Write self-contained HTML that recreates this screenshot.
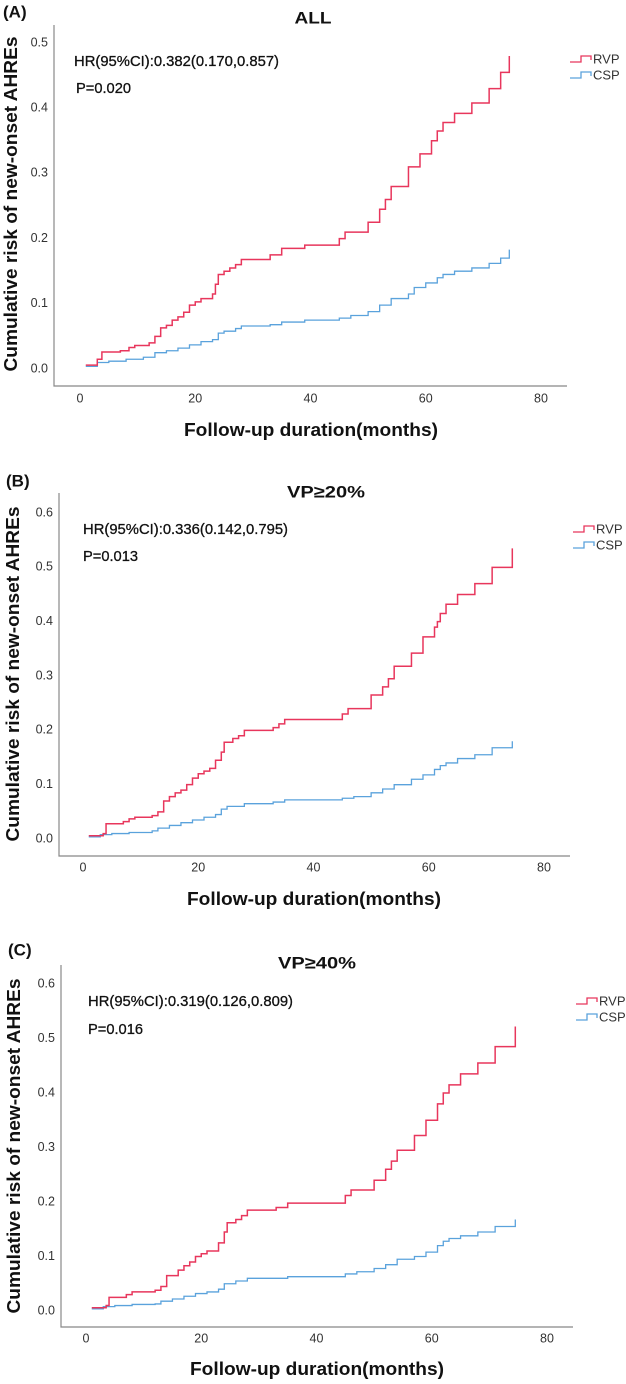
<!DOCTYPE html>
<html><head><meta charset="utf-8"><style>
html,body{margin:0;padding:0;background:#fff;}
svg{display:block;font-family:"Liberation Sans",Arial,sans-serif;}
</style></head><body>
<svg id="fig" width="626" height="1384" viewBox="0 0 626 1384"></svg>
<script>
// ---- data (months, cumulative risk) ----
const xTicks = [0, 20, 40, 60, 80];
const yTicksA = [0, 0.1, 0.2, 0.3, 0.4, 0.5];
const yTicksBC = [0, 0.1, 0.2, 0.3, 0.4, 0.5, 0.6];
const titles = ["ALL", "VP\u226520%", "VP\u226540%"];
const panelLabels = ["(A)", "(B)", "(C)"];
const hrTexts = ["HR(95%CI):0.382(0.170,0.857)", "HR(95%CI):0.336(0.142,0.795)", "HR(95%CI):0.319(0.126,0.809)"];
const pTexts = ["P=0.020", "P=0.013", "P=0.016"];

const rvpA_t = [1,3,3.8,7,8.5,9.5,12,13,14,15,16,17,18,19,20,21,23,23.5,24,25,26,27,28,33,35,39,45,46,50,52,53,54,57,59,61,62,63,65,68,71,73,74.5];
const rvpA_v = [.006,.015,.026,.028,.033,.036,.04,.05,.063,.067,.075,.08,.087,.098,.103,.108,.115,.13,.145,.15,.155,.16,.168,.175,.185,.19,.2,.21,.225,.245,.26,.28,.31,.33,.35,.365,.378,.392,.408,.43,.455,.48];
const cspA_t = [1,3,5,8,11,13,15,17,19,21,23,24,25,27,28,33,35,39,45,47,50,52,54,57,58,60,62,63,65,68,71,73,74.5];
const cspA_v = [.004,.01,.012,.015,.018,.025,.028,.032,.037,.042,.045,.055,.058,.062,.066,.068,.072,.075,.078,.082,.088,.098,.108,.115,.125,.132,.14,.145,.15,.155,.162,.17,.183];

const rvpB_t = [1,3.5,4,7,8,9,12,13,14,15,16,17,18,19,20,21,22,23,24,24.5,26,27,28,33,34,35,45,46,50,52,53,54,57,59,61,61.5,62,63,65,68,71,74.5];
const rvpB_v = [.006,.01,.028,.032,.037,.04,.043,.05,.07,.078,.085,.09,.1,.112,.12,.125,.13,.145,.16,.178,.185,.19,.2,.205,.212,.22,.23,.24,.265,.28,.295,.318,.342,.372,.39,.40,.415,.432,.45,.47,.5,.535];
const cspB_t = [1,3,5,8,12,13,15,17,19,21,23,24,25,28,33,35,45,47,50,52,54,57,59,61,62,63,65,68,71,74.5];
const cspB_v = [.004,.008,.01,.012,.015,.02,.025,.03,.035,.04,.045,.055,.06,.065,.068,.072,.075,.078,.085,.092,.1,.11,.118,.128,.135,.14,.148,.155,.168,.18];

const rvpC_t = [1,3.5,4,7,8,12,13,14,16,17,18,19,20,21,23,24,24.5,26,27,28,33,35,45,46,50,52,53,54,57,59,61,62,63,65,68,71,74.5];
const rvpC_v = [.006,.01,.025,.03,.035,.038,.045,.065,.075,.083,.09,.1,.105,.11,.125,.145,.162,.168,.175,.185,.19,.198,.212,.222,.24,.26,.275,.295,.322,.35,.38,.4,.415,.435,.455,.485,.522];
const cspC_t = [1,3,5,8,12,13,15,17,19,21,23,24,26,28,35,45,47,50,52,54,57,59,61,62,63,65,68,71,74.5];
const cspC_v = [.004,.008,.01,.012,.013,.018,.022,.027,.032,.035,.04,.05,.055,.06,.063,.068,.072,.078,.085,.095,.1,.108,.12,.128,.133,.138,.145,.155,.168];

// ---- layout (not data) ----
const layouts = [
  {ax:54, top:25, bottom:386, right:567, x0:80, x80:541, y0:369, yTop:43, yMax:0.5, yTicks:yTicksA, lab:[3,13], title:[313,19], titleW:37, hr:[74,62], p:[76,89], leg:[570,59,75], xt:[311,431], yt:[12,204], tickY:399},
  {ax:59, top:493, bottom:856, right:570, x0:83, x80:544, y0:839, yTop:513, yMax:0.6, yTicks:yTicksBC, lab:[6,482], title:[326,493], titleW:78, hr:[83,530], p:[83,557], leg:[573,529,545], xt:[314,900], yt:[14,674], tickY:868},
  {ax:61, top:965, bottom:1327, right:573, x0:86, x80:547, y0:1311, yTop:984, yMax:0.6, yTicks:yTicksBC, lab:[8,951], title:[317,964], titleW:78, hr:[88,1002], p:[88,1030], leg:[576,1001,1017], xt:[317,1370], yt:[15,1146], tickY:1339}
];
const seriesData = [[rvpA_t,rvpA_v,cspA_t,cspA_v],[rvpB_t,rvpB_v,cspB_t,cspB_v],[rvpC_t,rvpC_v,cspC_t,cspC_v]];
const RED = "#e8365c", BLUE = "#5aa2dc";
const NS = "http://www.w3.org/2000/svg";
const svg = document.getElementById("fig");
function mk(tag, attrs, parent, txt){
  const e = document.createElementNS(NS, tag);
  for (const k in attrs) e.setAttribute(k, attrs[k]);
  if (txt !== undefined) e.textContent = txt;
  (parent||svg).appendChild(e);
  return e;
}
function stepPath(ts, vs, sx, sy){
  let d = "M" + sx(ts[0]) + "," + sy(vs[0]);
  for (let i = 1; i < ts.length; i++){
    d += " H" + sx(ts[i]) + " V" + sy(vs[i]);
  }
  return d;
}
layouts.forEach((L, i) => {
  const g = mk("g", {});
  
  
  const sx = m => L.x0 + (L.x80 - L.x0) * m / 80;
  const sy = v => L.y0 - (L.y0 - L.yTop) * v / L.yMax;
  const pl = mk("text", {x:L.lab[0], y:L.lab[1], "font-size":17, "font-weight":"bold", fill:"#111", "dominant-baseline":"middle"}, g, panelLabels[i]);
  
  
  const tt = mk("text", {x:L.title[0], y:L.title[1], "font-size":17, "font-weight":"bold", fill:"#111", "text-anchor":"middle", "dominant-baseline":"middle", textLength:L.titleW, lengthAdjust:"spacingAndGlyphs"}, g, titles[i]);
  
  
  const axes = mk("path", {d:"M"+L.ax+","+L.top+" V"+L.bottom+" H"+L.right, fill:"none", stroke:"#888", "stroke-width":1.2}, g);
  
  
  xTicks.forEach(t => {
    const e = mk("text", {x:sx(t), y:L.tickY, "font-size":12.5, fill:"#333", "text-anchor":"middle", "dominant-baseline":"middle"}, g, String(t));
    
    
  });
  L.yTicks.forEach(t => {
    const e = mk("text", {x:L.ax-6, y:sy(t), "font-size":12.5, fill:"#333", "text-anchor":"end", "dominant-baseline":"middle"}, g, t.toFixed(1));
    
    
  });
  const hr = mk("text", {x:L.hr[0], y:L.hr[1], "font-size":14.5, fill:"#111", stroke:"#111", "stroke-width":0.3, "dominant-baseline":"middle", textLength:205, lengthAdjust:"spacingAndGlyphs"}, g, hrTexts[i]);
  
  
  const pv = mk("text", {x:L.p[0], y:L.p[1], "font-size":14.5, fill:"#111", stroke:"#111", "stroke-width":0.3, "dominant-baseline":"middle", textLength:55, lengthAdjust:"spacingAndGlyphs"}, g, pTexts[i]);
  
  
  const xt = mk("text", {x:L.xt[0], y:L.xt[1], "font-size":18, "font-weight":"bold", fill:"#111", "text-anchor":"middle", "dominant-baseline":"middle", textLength:254, lengthAdjust:"spacingAndGlyphs"}, g, "Follow-up duration(months)");
  
  
  const yt = mk("text", {x:0, y:0, "font-size":18, "font-weight":"bold", fill:"#111", "text-anchor":"middle", "dominant-baseline":"middle", textLength:335, lengthAdjust:"spacingAndGlyphs", transform:"translate("+L.yt[0]+","+L.yt[1]+") rotate(-90)"}, g, "Cumulative risk of new-onset AHREs");
  
  
  const S = seriesData[i];
  const c = mk("path", {d:stepPath(S[2],S[3],sx,sy), fill:"none", stroke:BLUE, "stroke-width":1.3}, g);
  
  
  const r = mk("path", {d:stepPath(S[0],S[1],sx,sy), fill:"none", stroke:RED, "stroke-width":1.5}, g);
  
  
  [[RED,"RVP",L.leg[1]],[BLUE,"CSP",L.leg[2]]].forEach(([col,name,y]) => {
    const lx = L.leg[0];
    const le = mk("g", {}, g);
    
    
    mk("path", {d:"M"+lx+","+(y+3)+" H"+(lx+11)+" V"+(y-3)+" H"+(lx+21)+" V"+(y+1), fill:"none", stroke:col, "stroke-width":1.3}, le);
    mk("text", {x:lx+23, y:y+1, "font-size":13, fill:"#333", "dominant-baseline":"middle"}, le, name);
  });
});
</script>
</body></html>
